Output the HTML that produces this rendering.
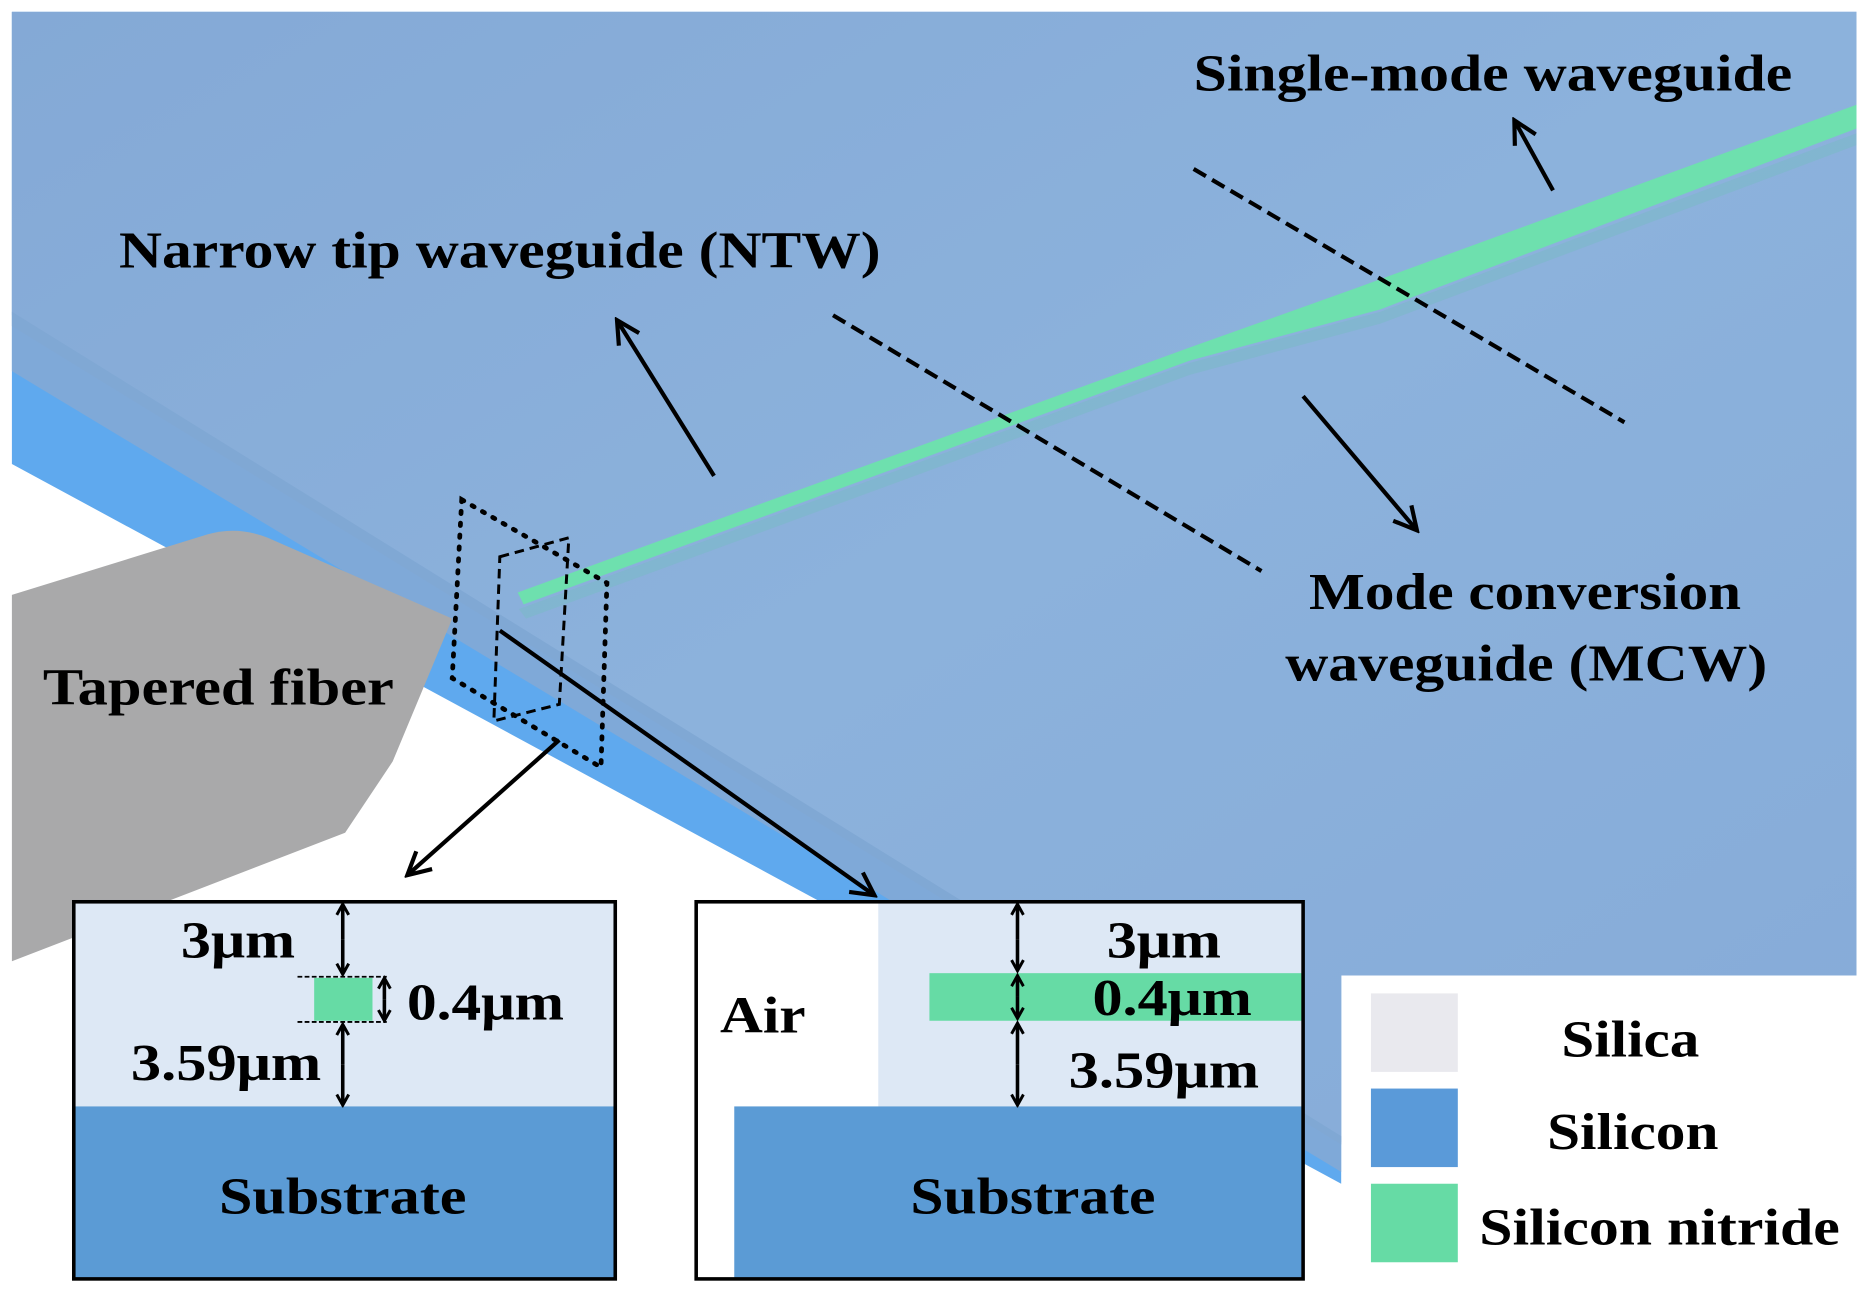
<!DOCTYPE html>
<html><head><style>html,body{margin:0;padding:0;background:#fff}svg{display:block}</style></head>
<body>
<svg width="1866" height="1292" viewBox="0 0 1568 1086" preserveAspectRatio="none" xmlns="http://www.w3.org/2000/svg" font-family="'Liberation Serif',serif" font-weight="bold">
<defs>
<marker id="ah" markerWidth="12" markerHeight="12" refX="9" refY="6" orient="auto" markerUnits="userSpaceOnUse" viewBox="0 0 12 12"><path d="M1,1 L10,6 L1,11" fill="none" stroke="#000" stroke-width="2.5"/></marker>
<marker id="ah2" markerWidth="24" markerHeight="24" refX="20" refY="12" orient="auto" markerUnits="userSpaceOnUse" viewBox="0 0 24 24"><path d="M2,2 L21,12 L2,22" fill="none" stroke="#000" stroke-width="3.5"/></marker>
<linearGradient id="pl" x1="0" y1="0" x2="1" y2="1"><stop offset="0" stop-color="#84a9d6"/><stop offset="0.5" stop-color="#8cb2dc"/><stop offset="1" stop-color="#86abd8"/></linearGradient>
</defs>
<rect width="1568" height="1086" fill="#fff"/>
<polygon points="10,10 1560,10 1560,820 1127,820 1127,995 10,390" fill="#5fa9ee"/>
<polygon points="10,10 1560,10 1560,820 1127,820 1127,985 10,312" fill="#7fa9d8"/>
<polygon points="10,10 1560,10 1560,820 1127,820 1127,960 10,265" fill="url(#pl)"/>
<polygon points="10,262 1127,955 1127,962 10,274" fill="#80a8d4"/>
<path d="M10,500 L175,449 Q200,442 225,452 L380,520 L330,640 L290,700 L10,808 Z" fill="#a9a9aa"/>
<polygon points="436,512 1000,305 1160,262 1560,112 1560,122 1160,272 1000,315 442,520" fill="#7bb9c8" opacity="0.6"/>
<polygon points="435,498 1000,292 1140,242 1560,88 1560,108 1160,260 1000,303 440,508" fill="#6ee0ae"/>
<g stroke="#000" stroke-width="3.5" stroke-dasharray="12,6" fill="none">
<line x1="700" y1="265" x2="1060" y2="480"/>
<line x1="1003" y1="142" x2="1365" y2="355"/>
<polygon points="420,468 478,452 470,592 415,606" stroke-width="2.5" stroke-dasharray="8,5"/>
</g>
<polygon points="388,420 510,490 505,645 380,570" stroke="#000" stroke-width="4" stroke-dasharray="2,8" stroke-linecap="round" fill="none"/>
<g stroke="#000" stroke-width="3.5" fill="none">
<line x1="600" y1="400" x2="519" y2="270" marker-end="url(#ah2)"/>
<line x1="1305" y1="160" x2="1273" y2="102" marker-end="url(#ah2)"/>
<line x1="1095" y1="333" x2="1190" y2="445" marker-end="url(#ah2)"/>
<line x1="470" y1="622" x2="343" y2="735" marker-end="url(#ah2)"/>
<line x1="420" y1="530" x2="734" y2="752" marker-end="url(#ah2)"/>
</g>
<g font-size="44" fill="#000">
<text x="100" y="225" textLength="640" lengthAdjust="spacingAndGlyphs">Narrow tip waveguide (NTW)</text>
<text x="1003" y="76" textLength="503" lengthAdjust="spacingAndGlyphs">Single-mode waveguide</text>
<text x="1100" y="512" textLength="363" lengthAdjust="spacingAndGlyphs">Mode conversion</text>
<text x="1080" y="572" textLength="405" lengthAdjust="spacingAndGlyphs">waveguide (MCW)</text>
<text x="36" y="592" textLength="295" lengthAdjust="spacingAndGlyphs">Tapered fiber</text>
</g>
<rect x="62" y="758" width="455" height="172" fill="#dde8f5"/>
<rect x="62" y="930" width="455" height="145" fill="#5b9bd5"/>
<rect x="264" y="822" width="49" height="36" fill="#66dba5"/>
<line x1="250" y1="821" x2="325" y2="821" stroke="#000" stroke-width="1.5" stroke-dasharray="4,2"/>
<line x1="250" y1="859" x2="325" y2="859" stroke="#000" stroke-width="1.5" stroke-dasharray="4,2"/>
<rect x="62" y="758" width="455" height="317" fill="none" stroke="#000" stroke-width="3"/>
<rect x="585" y="758" width="510" height="317" fill="#fff"/>
<rect x="738" y="758" width="357" height="172" fill="#dde8f5"/>
<rect x="617" y="930" width="478" height="145" fill="#5b9bd5"/>
<rect x="781" y="818" width="314" height="40" fill="#66dba5"/>
<rect x="585" y="758" width="510" height="317" fill="none" stroke="#000" stroke-width="3"/>
<g stroke="#000" stroke-width="3" fill="none">
<line x1="288" y1="790" x2="288" y2="761" marker-end="url(#ah)"/>
<line x1="288" y1="790" x2="288" y2="818" marker-end="url(#ah)"/>
<line x1="288" y1="895" x2="288" y2="862" marker-end="url(#ah)"/>
<line x1="288" y1="895" x2="288" y2="928" marker-end="url(#ah)"/>
<line x1="323" y1="840" x2="323" y2="823" marker-end="url(#ah)"/>
<line x1="323" y1="840" x2="323" y2="857" marker-end="url(#ah)"/>
<line x1="855" y1="790" x2="855" y2="761" marker-end="url(#ah)"/>
<line x1="855" y1="790" x2="855" y2="815" marker-end="url(#ah)"/>
<line x1="855" y1="838" x2="855" y2="821" marker-end="url(#ah)"/>
<line x1="855" y1="838" x2="855" y2="855" marker-end="url(#ah)"/>
<line x1="855" y1="895" x2="855" y2="861" marker-end="url(#ah)"/>
<line x1="855" y1="895" x2="855" y2="928" marker-end="url(#ah)"/>
</g>
<g font-size="44" fill="#000">
<text x="152" y="805" textLength="96" lengthAdjust="spacingAndGlyphs">3μm</text>
<text x="342" y="857" textLength="132" lengthAdjust="spacingAndGlyphs">0.4μm</text>
<text x="110" y="908" textLength="160" lengthAdjust="spacingAndGlyphs">3.59μm</text>
<text x="184" y="1020" textLength="208" lengthAdjust="spacingAndGlyphs">Substrate</text>
<text x="605" y="868" textLength="72" lengthAdjust="spacingAndGlyphs">Air</text>
<text x="930" y="805" textLength="96" lengthAdjust="spacingAndGlyphs">3μm</text>
<text x="918" y="853" textLength="134" lengthAdjust="spacingAndGlyphs">0.4μm</text>
<text x="898" y="914" textLength="160" lengthAdjust="spacingAndGlyphs">3.59μm</text>
<text x="765" y="1020" textLength="206" lengthAdjust="spacingAndGlyphs">Substrate</text>
</g>
<rect x="1152" y="835" width="73" height="66" fill="#e9e9ee"/>
<rect x="1152" y="915" width="73" height="66" fill="#5a9ad9"/>
<rect x="1152" y="995" width="73" height="66" fill="#66dba5"/>
<g font-size="44" fill="#000">
<text x="1312" y="888" textLength="116" lengthAdjust="spacingAndGlyphs">Silica</text>
<text x="1300" y="966" textLength="144" lengthAdjust="spacingAndGlyphs">Silicon</text>
<text x="1243" y="1046" textLength="303" lengthAdjust="spacingAndGlyphs">Silicon nitride</text>
</g>
</svg>
</body></html>
